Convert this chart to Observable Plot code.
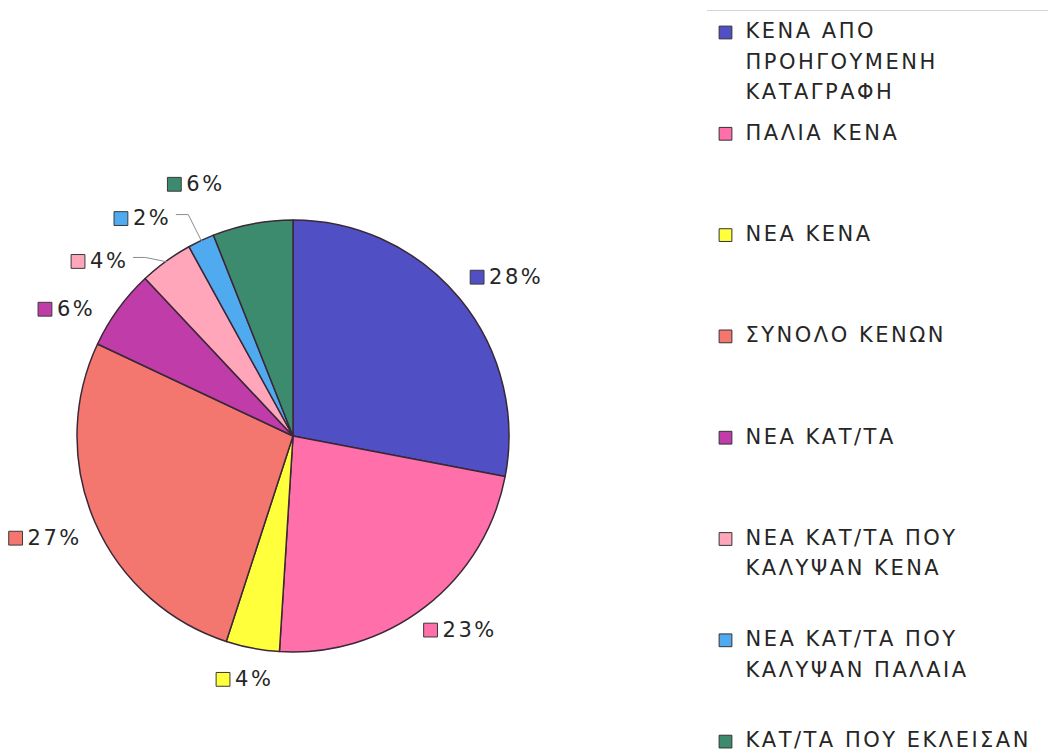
<!DOCTYPE html>
<html><head><meta charset="utf-8">
<script src="https://cdn.jsdelivr.net/npm/d3@7"></script>
<script src="https://cdn.jsdelivr.net/npm/@observablehq/plot@0.6"></script>
<style>
html,body{margin:0;padding:0;background:#fff;}
#chart{position:relative;width:1048px;height:755px;overflow:hidden;}
#chart svg text{letter-spacing:2.5px;}
.legend-rule{position:absolute;left:707px;top:10px;width:341px;border-top:1px solid #d6d6d6;}
</style></head><body>
<div id="chart"><div class="legend-rule"></div></div>
<script>
// ---- data ----
const categories = [
  "ΚΕΝΑ ΑΠΟ ΠΡΟΗΓΟΥΜΕΝΗ ΚΑΤΑΓΡΑΦΗ",
  "ΠΑΛΙΑ ΚΕΝΑ",
  "ΝΕΑ ΚΕΝΑ",
  "ΣΥΝΟΛΟ ΚΕΝΩΝ",
  "ΝΕΑ ΚΑΤ/ΤΑ",
  "ΝΕΑ ΚΑΤ/ΤΑ ΠΟΥ ΚΑΛΥΨΑΝ ΚΕΝΑ",
  "ΝΕΑ ΚΑΤ/ΤΑ ΠΟΥ ΚΑΛΥΨΑΝ ΠΑΛΑΙΑ",
  "ΚΑΤ/ΤΑ ΠΟΥ ΕΚΛΕΙΣΑΝ"
];
const legendLines = [
  "ΚΕΝΑ ΑΠΟ\nΠΡΟΗΓΟΥΜΕΝΗ\nΚΑΤΑΓΡΑΦΗ",
  "ΠΑΛΙΑ ΚΕΝΑ",
  "ΝΕΑ ΚΕΝΑ",
  "ΣΥΝΟΛΟ ΚΕΝΩΝ",
  "ΝΕΑ ΚΑΤ/ΤΑ",
  "ΝΕΑ ΚΑΤ/ΤΑ ΠΟΥ\nΚΑΛΥΨΑΝ ΚΕΝΑ",
  "ΝΕΑ ΚΑΤ/ΤΑ ΠΟΥ\nΚΑΛΥΨΑΝ ΠΑΛΑΙΑ",
  "ΚΑΤ/ΤΑ ΠΟΥ ΕΚΛΕΙΣΑΝ"
];
const values = [28, 23, 4, 27, 6, 4, 2, 6];
const colors = ["#5050C4", "#FF70AA", "#FFFF3C", "#F4776F", "#C03CA8", "#FFA6BA", "#50AAF0", "#3D8B6E"];

// ---- layout ----
const W = 1048, H = 755;
const cx = 293, cy = 436, R = 216;
const FONT = "'DejaVu Sans', Verdana, sans-serif";
const FS = 21, LS = 2.5;

const data = categories.map((c, i) => ({category: c, value: values[i], legend: legendLines[i], i}));
const total = d3.sum(values);
const arcs = d3.pie().sort(null).value(d => d.value)(data);

const ctx = document.createElement("canvas").getContext("2d");
ctx.font = `${FS}px ${FONT}`;
const textW = s => ctx.measureText(s).width + LS * s.length;

const TAU = 2 * Math.PI;
const labels = arcs.map(a => {
  const nat = (a.startAngle + a.endAngle) / 2;
  return {category: a.data.category, text: Math.round(a.data.value / total * 100) + "%", nat, phi: nat, leader: false};
});
// upper-left labels: spread counter-clockwise from a cap
const cap = TAU * 340 / 360, gap = TAU * 13 / 360;
const ul = labels.filter(l => l.nat > TAU * 0.75).sort((a, b) => b.nat - a.nat);
ul.forEach((l, k) => {
  if (k === 0) { l.phi = Math.min(l.nat, cap); }
  else {
    const lim = ul[k - 1].phi - gap;
    l.phi = Math.min(l.nat, lim);
    if (l.nat - l.phi > TAU * 6 / 360) l.leader = true;
  }
});
labels.forEach(l => {
  const s = Math.sin(l.phi), c = Math.cos(l.phi);
  const w = 18 + textW(l.text);
  const hw = w / 2, hh = 10;
  const R0 = 235 + 30 * Math.pow(Math.max(0, c), 4);
  l.gx = cx + s * (R0 + hw);
  l.gy = cy - c * (R0 + hh) + 6 * Math.max(0, -s) * Math.max(0, -c) * 2;
  l.left = l.gx - hw;
  l.right = l.gx + hw;
  l.sx = l.left + 7;
  l.tx = l.left + 19;
});
const leaderPts = [];
labels.filter(l => l.leader).forEach(l => {
  const ex = cx + Math.sin(l.nat) * R, ey = cy - Math.cos(l.nat) * R;
  leaderPts.push({id: l.category, x: l.right + 6, y: l.gy - 4});
  leaderPts.push({id: l.category, x: l.right + 18, y: l.gy - 4});
  leaderPts.push({id: l.category, x: ex, y: ey});
});

const legendTop = 32, legendStep = 101.3;
const legend = data.map((d, i) => ({category: d.category, text: d.legend, y: legendTop + i * legendStep}));

const pieMark = (index, scales) => {
  const col = (scales && scales.color) ? scales.color : d3.scaleOrdinal(categories, colors);
  const g = d3.create("svg:g").attr("transform", `translate(${cx},${cy})`);
  const arc = d3.arc().innerRadius(0).outerRadius(R);
  g.selectAll("path").data(arcs).join("path")
    .attr("d", arc)
    .attr("fill", d => col(d.data.category))
    .attr("stroke", "#3a2838")
    .attr("stroke-width", 1.5)
    .attr("stroke-linejoin", "round");
  return g.node();
};

const chart = Plot.plot({
  width: W, height: H,
  margin: 0,
  x: {type: "identity", axis: null},
  y: {type: "identity", axis: null},
  color: {domain: categories, range: colors},
  style: {fontFamily: FONT, background: "transparent"},
  marks: [
    pieMark,
    Plot.line(leaderPts, {x: "x", y: "y", z: "id", stroke: "#8c8c8c", strokeWidth: 1}),
    Plot.dot(labels, {x: "sx", y: "gy", symbol: "square", r: 7.8, fill: "category", stroke: "#3a3a3a", strokeWidth: 1}),
    Plot.text(labels, {x: "tx", y: "gy", text: "text", textAnchor: "start", fontSize: FS, fill: "#262626", fontFamily: FONT}),
    Plot.dot(legend, {x: () => 725, y: "y", symbol: "square", r: 7.2, fill: "category", stroke: "#333", strokeWidth: 1}),
    Plot.text(legend, {x: () => 745, y: d => d.y - 0.75 * FS, text: "text", textAnchor: "start", lineAnchor: "top", lineHeight: 1.45, fontSize: FS, fill: "#262626", fontFamily: FONT})
  ]
});
document.getElementById("chart").appendChild(chart);
</script>
</body></html>
